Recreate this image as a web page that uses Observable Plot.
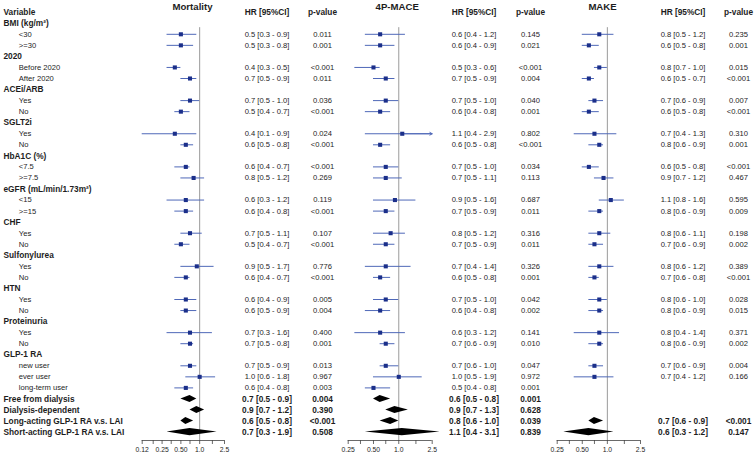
<!DOCTYPE html>
<html>
<head>
<meta charset="utf-8">
<script src="https://cdn.jsdelivr.net/npm/d3@7"></script>
<script src="https://cdn.jsdelivr.net/npm/@observablehq/plot@0.6"></script>
<style>
  body { margin: 0; background: #fff; }
  #chart { position: relative; width: 756px; height: 457px; overflow: hidden; }
  #chart svg { position: absolute; left: 0; top: 0; }
</style>
</head>
<body>
<div id="chart"></div>
<script>
// ---- Table rows -----------------------------------------------------------
const rowLabels = [
  "Variable",
  "BMI (kg/m²)", "<30", ">=30",
  "2020", "Before 2020", "After 2020",
  "ACEi/ARB", "Yes", "No",
  "SGLT2i", "Yes", "No",
  "HbA1C (%)", "<7.5", ">=7.5",
  "eGFR (mL/min/1.73m²)", "<15", ">=15",
  "CHF", "Yes", "No",
  "Sulfonylurea", "Yes", "No",
  "HTN", "Yes", "No",
  "Proteinuria", "Yes", "No",
  "GLP-1 RA", "new user", "ever user", "long-term user",
  "Free from dialysis", "Dialysis-dependent",
  "Long-acting GLP-1 RA v.s. LAI", "Short-acting GLP-1 RA v.s. LAI"
];
// "group" = bold heading, "sub" = indented subgroup, "total" = bold pooled row
const rowKinds = [
  "group",
  "group", "sub", "sub",
  "group", "sub", "sub",
  "group", "sub", "sub",
  "group", "sub", "sub",
  "group", "sub", "sub",
  "group", "sub", "sub",
  "group", "sub", "sub",
  "group", "sub", "sub",
  "group", "sub", "sub",
  "group", "sub", "sub",
  "group", "sub", "sub", "sub",
  "total", "total", "total", "total"
];
// rows that carry an estimate, in order
const estRows = [2, 3, 5, 6, 8, 9, 11, 12, 14, 15, 17, 18, 20, 21, 23, 24,
                 26, 27, 29, 30, 32, 33, 34, 35, 36, 37, 38];

// ---- Mortality ------------------------------------------------------------
const mortHR = [0.5, 0.5, 0.4, 0.7, 0.7, 0.5, 0.4, 0.6, 0.6, 0.8, 0.6, 0.6, 0.7, 0.5, 0.9, 0.6,
                0.6, 0.6, 0.7, 0.7, 0.7, 1.0, 0.6, 0.7, 0.9, 0.6, 0.7];
const mortLo = [0.3, 0.3, 0.3, 0.5, 0.5, 0.4, 0.1, 0.5, 0.4, 0.5, 0.3, 0.4, 0.5, 0.4, 0.5, 0.4,
                0.4, 0.5, 0.3, 0.5, 0.5, 0.6, 0.4, 0.5, 0.7, 0.5, 0.3];
const mortHi = [0.9, 0.8, 0.5, 0.9, 1.0, 0.7, 0.9, 0.8, 0.7, 1.2, 1.2, 0.8, 1.1, 0.7, 1.7, 0.7,
                0.9, 0.9, 1.6, 0.8, 0.9, 1.8, 0.8, 0.9, 1.2, 0.8, 1.9];
const mortP = ["0.011", "0.001", "<0.001", "0.011", "0.036", "<0.001", "0.024", "<0.001",
               "<0.001", "0.269", "0.119", "<0.001", "0.107", "<0.001", "0.776", "<0.001",
               "0.005", "0.004", "0.400", "0.001", "0.013", "0.967", "0.003",
               "0.004", "0.390", "<0.001", "0.508"];

// ---- 4P-MACE --------------------------------------------------------------
const maceHR = [0.6, 0.6, 0.5, 0.7, 0.7, 0.6, 1.1, 0.6, 0.7, 0.7, 0.9, 0.7, 0.8, 0.7, 0.7, 0.6,
                0.7, 0.6, 0.6, 0.7, 0.7, 1.0, 0.5, 0.6, 0.9, 0.8, 1.1];
const maceLo = [0.4, 0.4, 0.3, 0.5, 0.5, 0.4, 0.4, 0.5, 0.5, 0.5, 0.5, 0.5, 0.5, 0.5, 0.4, 0.5,
                0.5, 0.4, 0.3, 0.6, 0.6, 0.5, 0.4, 0.5, 0.7, 0.6, 0.4];
const maceHi = [1.2, 0.9, 0.6, 0.9, 1.0, 0.8, 2.9, 0.8, 1.0, 1.1, 1.6, 0.9, 1.2, 0.9, 1.4, 0.8,
                1.0, 0.8, 1.2, 0.9, 1.0, 1.9, 0.8, 0.8, 1.3, 1.0, 3.1];
const maceP = ["0.145", "0.021", "<0.001", "0.004", "0.040", "0.001", "0.802", "<0.001",
               "0.034", "0.113", "0.687", "0.011", "0.316", "0.011", "0.326", "0.001",
               "0.042", "0.002", "0.141", "0.010", "0.047", "0.972", "0.001",
               "0.001", "0.628", "0.039", "0.839"];

// ---- MAKE -----------------------------------------------------------------
const makeHR = [0.8, 0.6, 0.8, 0.6, 0.7, 0.6, 0.7, 0.8, 0.6, 0.9, 1.1, 0.8, 0.8, 0.7, 0.8, 0.7,
                0.8, 0.8, 0.8, 0.8, 0.7, 0.7, null, null, null, 0.7, 0.6];
const makeLo = [0.5, 0.5, 0.7, 0.5, 0.6, 0.5, 0.4, 0.6, 0.5, 0.7, 0.8, 0.6, 0.6, 0.6, 0.6, 0.6,
                0.6, 0.6, 0.4, 0.6, 0.6, 0.4, null, null, null, 0.6, 0.3];
const makeHi = [1.2, 0.8, 1.0, 0.7, 0.9, 0.8, 1.3, 0.9, 0.8, 1.2, 1.6, 0.9, 1.1, 0.9, 1.2, 0.8,
                1.0, 0.9, 1.4, 0.9, 0.9, 1.2, null, null, null, 0.9, 1.2];
const makeP = ["0.235", "0.001", "0.015", "<0.001", "0.007", "<0.001", "0.310", "0.001",
               "<0.001", "0.467", "0.595", "0.009", "0.198", "0.002", "0.389", "<0.001",
               "0.028", "0.015", "0.371", "0.002", "0.004", "0.166", null,
               null, null, "<0.001", "0.147"];

// ---- Axis ticks -----------------------------------------------------------
const mortTicks = [0.12, 0.18, 0.25, 0.35, 0.5, 0.7, 1, 1.6, 2.5];
const wideTicks = [0.25, 0.35, 0.5, 0.7, 1, 1.6, 2.5];
const tickText = new Map([[0.12, "0.12"], [0.25, "0.25"], [0.5, "0.50"], [1, "1.0"], [2.5, "2.5"]]);

// ---- Layout ---------------------------------------------------------------
const W = 756, H = 457;
const TOP = 11.7;          // centre of the header row
const AXIS_Y = 440;        // pixel row of the x axis line
const ROW_H = 11.05;
const AXIS_ROW = (AXIS_Y - TOP) / ROW_H;
const FONT = "'Liberation Sans', Arial, Helvetica, sans-serif";
const INK = "#1d1d1d";
const BOX = "#1b2f8a";
const CI = "#4f68b8";
const DIAMOND_H = 0.32;    // half height of pooled diamonds, in rows

const panels = [
  {title: "Mortality", hr: mortHR, lo: mortLo, hi: mortHi, p: mortP,
   domain: [0.12, 2.5], left: 141.7, right: 224, ticks: mortTicks,
   titleX: 192, hrX: 266.5, pX: 322},
  {title: "4P-MACE", hr: maceHR, lo: maceLo, hi: maceHi, p: maceP,
   domain: [0.25, 2.5], left: 347.7, right: 431.7, ticks: wideTicks,
   titleX: 396.7, hrX: 473.5, pX: 530},
  {title: "MAKE", hr: makeHR, lo: makeLo, hi: makeHi, p: makeP,
   domain: [0.25, 2.5], left: 556.7, right: 640, ticks: wideTicks,
   titleX: 602, hrX: 682.5, pX: 738}
];

const fmt = v => v.toFixed(1);
function records(panel) {
  return estRows.map((row, i) => ({
    row,
    total: rowKinds[row] === "total",
    est: panel.hr[i], lo: panel.lo[i], hi: panel.hi[i], p: panel.p[i]
  }));
}

// rows run top to bottom
const frameY = {domain: [0, AXIS_ROW], range: [TOP, AXIS_Y]};
const common = {
  width: W, height: H,
  marginTop: TOP, marginBottom: H - AXIS_Y,
  style: {background: "transparent", fontFamily: FONT, color: INK, overflow: "visible"}
};

// ---- Text columns ---------------------------------------------------------
const cells = [];
cells.push({x: 3, row: 0, text: "Variable", anchor: "start", bold: true, size: 8.3});
rowLabels.forEach((t, row) => {
  if (row === 0) return;
  const k = rowKinds[row];
  cells.push({x: k === "sub" ? 18.3 : 3, row, text: t, anchor: "start",
              bold: k !== "sub", size: k === "sub" ? 7.6 : 8.3});
});
for (const panel of panels) {
  cells.push({x: panel.titleX, row: -0.45, text: panel.title, anchor: "middle", bold: true, size: 9.6});
  cells.push({x: panel.hrX, row: 0, text: "HR [95%CI]", anchor: "middle", bold: true, size: 8.3});
  cells.push({x: panel.pX, row: 0, text: "p-value", anchor: "middle", bold: true, size: 8.3});
  for (const d of records(panel)) {
    const size = d.total ? 8.3 : 7.6;
    if (d.est != null)
      cells.push({x: panel.hrX, row: d.row, text: `${fmt(d.est)} [${fmt(d.lo)} - ${fmt(d.hi)}]`,
                  anchor: "middle", bold: d.total, size});
    if (d.p != null)
      cells.push({x: panel.pX, row: d.row, text: d.p, anchor: "middle", bold: d.total, size});
  }
}
const styles = d3.groups(cells, d => `${d.anchor}|${d.bold}|${d.size}`);
const textPlot = Plot.plot({
  ...common,
  marginLeft: 0, marginRight: 0,
  x: {domain: [0, W], axis: null},
  y: {...frameY, axis: null},
  marks: styles.map(([key, rows]) => {
    const [anchor, bold, size] = key.split("|");
    return Plot.text(rows, {
      x: "x", y: "row", text: "text", textAnchor: anchor,
      fontWeight: bold === "true" ? "bold" : "normal", fontSize: +size, fill: INK
    });
  })
});

// ---- Forest panels --------------------------------------------------------
function forest(panel) {
  const recs = records(panel).filter(d => d.est != null);
  const boxes = recs.filter(d => !d.total);
  const pooled = recs.filter(d => d.total);
  const [dmin, dmax] = panel.domain;
  const diamonds = pooled.flatMap(d => [
    {key: d.row, row: d.row - DIAMOND_H, x1: d.est, x2: d.est},
    {key: d.row, row: d.row, x1: d.lo, x2: d.hi},
    {key: d.row, row: d.row + DIAMOND_H, x1: d.est, x2: d.est}
  ]);
  const overflow = boxes.filter(d => d.hi > dmax).map(d => ({row: d.row, a: d.est, b: dmax}));
  return Plot.plot({
    ...common,
    marginLeft: panel.left, marginRight: W - panel.right,
    x: {type: "log", domain: panel.domain},
    y: {...frameY, axis: null},
    marks: [
      Plot.ruleX([{x: 1, y1: 1.4, y2: AXIS_ROW}], {x: "x", y1: "y1", y2: "y2", stroke: "#9a9a9a", strokeWidth: 1}),
      Plot.ruleY([{y: AXIS_ROW, a: dmin, b: dmax}], {y: "y", x1: "a", x2: "b", stroke: "#444", strokeWidth: 0.8}),
      Plot.axisX({
        anchor: "bottom", ticks: panel.ticks, tickSize: 4, tickPadding: 3,
        tickFormat: d => tickText.get(d) ?? "", fontSize: 6.8, label: null,
        stroke: "#444", strokeWidth: 0.8
      }),
      Plot.ruleY(boxes, {y: "row", x1: "lo", x2: "hi", stroke: CI, strokeWidth: 1, clip: true}),
      Plot.arrow(overflow, {x1: "a", x2: "b", y1: "row", y2: "row", stroke: CI, strokeWidth: 1,
                            headLength: 4, bend: 0}),
      Plot.dot(boxes, {x: "est", y: "row", symbol: "square", r: 2.3, fill: BOX, stroke: null}),
      Plot.areaX(diamonds, {x1: "x1", x2: "x2", y: "row", z: "key", fill: "#000", curve: "linear"})
    ]
  });
}

const chart = document.getElementById("chart");
chart.append(textPlot);
for (const panel of panels) chart.append(forest(panel));
</script>
</body>
</html>
